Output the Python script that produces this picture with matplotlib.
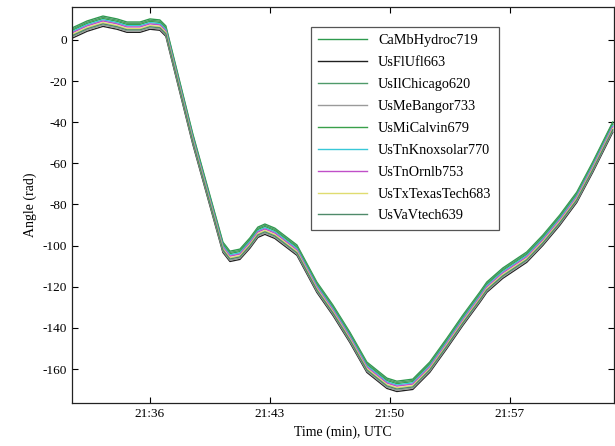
import matplotlib
matplotlib.use('Agg')
import matplotlib.pyplot as plt
from matplotlib.ticker import FixedLocator, FixedFormatter

plt.rcParams['font.family'] = ['Liberation Serif', 'DejaVu Serif']
plt.rcParams['axes.unicode_minus'] = False

# time in minutes after 21:00 UTC
minutes = [31.45, 32.33, 33.26, 34.08, 34.66, 35.42, 36.00, 36.58, 36.93, 38.5,
           40.26, 40.67, 41.25, 41.83, 42.30, 42.71, 43.29, 44.58, 45.74, 46.68,
           47.67, 48.66, 49.83, 50.41, 51.34, 52.33, 53.33, 54.26, 55.25, 55.66,
           56.59, 57.99, 58.93, 59.92, 60.91, 61.84, 63.01]

ca_mb_hydroc = [5.8, 9.2, 11.6, 10.2, 8.7, 8.7, 10.2, 9.7, 6.8, -45.6, -98.3, -102.7, -101.7,
                -96.3, -91.0, -89.5, -91.5, -99.7, -117.7, -128.9, -142.1, -156.6, -164.4,
                -165.9, -164.9, -156.6, -145.0, -133.8, -122.6, -117.7, -110.9, -103.1,
                -94.9, -85.1, -74.0, -59.4, -39.9]
us_fl_ufl = [0.8, 4.2, 6.6, 5.2, 3.7, 3.7, 5.2, 4.7, 1.8, -50.6, -103.3, -107.7, -106.7,
             -101.3, -96.0, -94.5, -96.5, -104.7, -122.7, -133.9, -147.1, -161.6, -169.4,
             -170.9, -169.9, -161.6, -150.0, -138.8, -127.6, -122.7, -115.9, -108.1,
             -99.9, -90.1, -79.0, -64.4, -44.9]
us_il_chicago = [5.2, 8.6, 11.0, 9.6, 8.1, 8.1, 9.6, 9.1, 6.2, -46.2, -98.9, -103.3, -102.3,
                 -96.9, -91.6, -90.1, -92.1, -100.3, -118.3, -129.5, -142.7, -157.2, -165.0,
                 -166.5, -165.5, -157.2, -145.6, -134.4, -123.2, -118.3, -111.5, -103.7,
                 -95.5, -85.7, -74.6, -60.0, -40.5]
us_me_bangor = [1.4, 4.8, 7.2, 5.8, 4.3, 4.3, 5.8, 5.3, 2.4, -50.0, -102.7, -107.1, -106.1,
                -100.7, -95.4, -93.9, -95.9, -104.1, -122.1, -133.3, -146.5, -161.0, -168.8,
                -170.3, -169.3, -161.0, -149.4, -138.2, -127.0, -122.1, -115.3, -107.5,
                -99.3, -89.5, -78.4, -63.8, -44.3]
us_mi_calvin = [4.6, 8.0, 10.4, 9.0, 7.5, 7.5, 9.0, 8.5, 5.6, -46.8, -99.5, -103.9, -102.9,
                -97.5, -92.2, -90.7, -92.7, -100.9, -118.9, -130.1, -143.3, -157.8, -165.6,
                -167.1, -166.1, -157.8, -146.2, -135.0, -123.8, -118.9, -112.1, -104.3,
                -96.1, -86.3, -75.2, -60.6, -41.1]
us_tn_knoxsolar = [4.0, 7.4, 9.8, 8.4, 6.9, 6.9, 8.4, 7.9, 5.0, -47.4, -100.1, -104.5, -103.5,
                   -98.1, -92.8, -91.3, -93.3, -101.5, -119.5, -130.7, -143.9, -158.4, -166.2,
                   -167.7, -166.7, -158.4, -146.8, -135.6, -124.4, -119.5, -112.7, -104.9,
                   -96.7, -86.9, -75.8, -61.2, -41.7]
us_tn_ornlb = [3.4, 6.8, 9.2, 7.8, 6.3, 6.3, 7.8, 7.3, 4.4, -48.0, -100.7, -105.1, -104.1,
               -98.7, -93.4, -91.9, -93.9, -102.1, -120.1, -131.3, -144.5, -159.0, -166.8,
               -168.3, -167.3, -159.0, -147.4, -136.2, -125.0, -120.1, -113.3, -105.5,
               -97.3, -87.5, -76.4, -61.8, -42.3]
us_tx_texastech = [2.6, 6.0, 8.4, 7.0, 5.5, 5.5, 7.0, 6.5, 3.6, -48.8, -101.5, -105.9, -104.9,
                   -99.5, -94.2, -92.7, -94.7, -102.9, -120.9, -132.1, -145.3, -159.8, -167.6,
                   -169.1, -168.1, -159.8, -148.2, -137.0, -125.8, -120.9, -114.1, -106.3,
                   -98.1, -88.3, -77.2, -62.6, -43.1]
us_va_vtech = [2.0, 5.4, 7.8, 6.4, 4.9, 4.9, 6.4, 5.9, 3.0, -49.4, -102.1, -106.5, -105.5,
               -100.1, -94.8, -93.3, -95.3, -103.5, -121.5, -132.7, -145.9, -160.4, -168.2,
               -169.7, -168.7, -160.4, -148.8, -137.6, -126.4, -121.5, -114.7, -106.9,
               -98.7, -88.9, -77.8, -63.2, -43.7]

names = ['CaMbHydroc719', 'UsFlUfl663', 'UsIlChicago620', 'UsMeBangor733', 'UsMiCalvin679',
         'UsTnKnoxsolar770', 'UsTnOrnlb753', 'UsTxTexasTech683', 'UsVaVtech639']
series = [ca_mb_hydroc, us_fl_ufl, us_il_chicago, us_me_bangor, us_mi_calvin,
          us_tn_knoxsolar, us_tn_ornlb, us_tx_texastech, us_va_vtech]
colors = ['#2e9a4e', '#202020', '#4f9a6a', '#9a9a9a', '#39a04a',
          '#38c8d8', '#c04fc8', '#e0dc70', '#4f8a6a']

tick_minutes = [36, 43, 50, 57]
tick_labels = ['21:36', '21:43', '21:50', '21:57']

fig = plt.figure(figsize=(6.15, 4.46), dpi=100)
ax = fig.add_axes([0.117, 0.0964, 0.881, 0.8879])

for name, vals, col in zip(names, series, colors):
    ax.plot(minutes, vals, color=col, lw=1.0, label=name, solid_joinstyle='round')

ax.set_xlim(31.45, 63.07)
ax.set_ylim(-176.5, 16)
ax.xaxis.set_major_locator(FixedLocator(tick_minutes))
ax.xaxis.set_major_formatter(FixedFormatter(tick_labels))
ax.set_yticks(range(-160, 1, 20))

ax.tick_params(direction='in', top=True, right=True, length=4, labelsize=9.5, width=0.8)
for s in ax.spines.values():
    s.set_linewidth(0.9)
    s.set_color('#222222')

ax.set_xlabel('Time (min), UTC', fontsize=10)
ax.set_ylabel('Angle (rad)', fontsize=10)

leg = ax.legend(loc='upper left', bbox_to_anchor=(0.441, 0.949), borderaxespad=0,
                fancybox=False, fontsize=10.3, handlelength=3.4, labelspacing=0.62,
                framealpha=1, edgecolor='#555555', borderpad=0.5)
leg.get_frame().set_linewidth(0.9)

fig.savefig('out.png', dpi=100)
